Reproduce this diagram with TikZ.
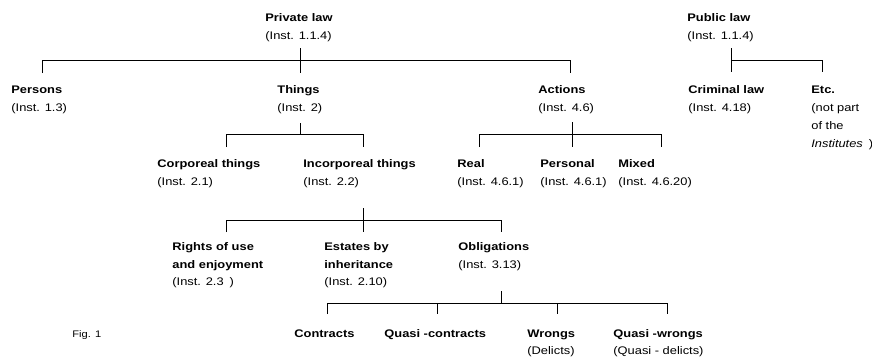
\documentclass[tikz,border=0pt]{standalone}
\usepackage{fontspec}
\setmainfont{Liberation Sans}[FakeStretch=1.17]
\newcommand\tline[1]{\hbox{#1}}
\newcommand\lbl[2][18pt]{\vtop{\baselineskip=#1\lineskip=0pt\lineskiplimit=-100pt #2}}
\begin{document}
\begin{tikzpicture}[x=1pt,y=-1pt,line width=0.8pt,
  txt/.style={anchor=base west,inner sep=0pt,font=\fontsize{11pt}{18pt}\selectfont},
  conn/.style={draw=black,line width=0.8pt}]
\useasboundingbox (0,0) rectangle (872,357);
% nodes
\node[txt] (priv) at (265,21.5) {\lbl{\tline{\bfseries Private law}\tline{(Inst. 1.1.4)}}};
\node[txt] (pub) at (687,21.5) {\lbl{\tline{\bfseries Public law}\tline{(Inst. 1.1.4)}}};
\node[txt] (persons) at (11,93.5) {\lbl{\tline{\bfseries Persons}\tline{(Inst. 1.3)}}};
\node[txt] (things) at (277,93.5) {\lbl{\tline{\bfseries Things}\tline{(Inst. 2)}}};
\node[txt] (actions) at (538,93.5) {\lbl{\tline{\bfseries Actions}\tline{(Inst. 4.6)}}};
\node[txt] (criminal) at (688,93.5) {\lbl{\tline{\bfseries Criminal law}\tline{(Inst. 4.18)}}};
\node[txt] (etc) at (811,93.5) {\lbl{\tline{\bfseries Etc.}\tline{(not part}\tline{of the}\tline{\itshape Institutes\upshape\hspace{6pt})}}};
\node[txt] (corp) at (157,167.5) {\lbl{\tline{\bfseries Corporeal things}\tline{(Inst. 2.1)}}};
\node[txt] (incorp) at (303,167.5) {\lbl{\tline{\bfseries Incorporeal things}\tline{(Inst. 2.2)}}};
\node[txt] (real) at (457,167.5) {\lbl{\tline{\bfseries Real}\tline{(Inst. 4.6.1)}}};
\node[txt] (personal) at (540,167.5) {\lbl{\tline{\bfseries Personal}\tline{(Inst. 4.6.1)}}};
\node[txt] (mixed) at (618,167.5) {\lbl{\tline{\bfseries Mixed}\tline{(Inst. 4.6.20)}}};
\node[txt] (rights) at (172,250.5) {\lbl[17.5pt]{\tline{\bfseries Rights of use}\tline{\bfseries and enjoyment}\tline{(Inst. 2.3\hspace{6pt})}}};
\node[txt] (estates) at (324,250.5) {\lbl[17.5pt]{\tline{\bfseries Estates by}\tline{\bfseries inheritance}\tline{(Inst. 2.10)}}};
\node[txt] (oblig) at (458,250.5) {\lbl[17.5pt]{\tline{\bfseries Obligations}\tline{(Inst. 3.13)}}};
\node[txt] (contracts) at (294,337.5) {\lbl{\tline{\bfseries Contracts}}};
\node[txt] (quasic) at (384,337.5) {\lbl{\tline{\bfseries Quasi -contracts}}};
\node[txt] (wrongs) at (527,337.5) {\lbl[17pt]{\tline{\bfseries Wrongs}\tline{(Delicts)}}};
\node[txt] (quasiw) at (613,337.5) {\lbl[17pt]{\tline{\bfseries Quasi -wrongs}\tline{(Quasi - delicts)}}};
\node[txt,font=\fontsize{9.5pt}{11pt}\selectfont] (fig) at (72,337.5) {Fig. 1};
% junction coordinates
\foreach \n/\x/\y in {pt/300/48,pMd/300/73,pL/42/60,pLd/42/73,pR/570/60,pRd/570/73,
  ut/731/48,ud/731/72,uj/731/60,uR/822/60,uRd/822/72,
  tt/300/123,tj/300/134,tL/226/134,tLd/226/147,tR/363/134,tRd/363/147,
  at/572/122,ad/572/147,aL/479/134,aLd/479/147,aR/661/134,aRd/661/147,
  it/363/208,id/363/232,iL/226/220,iLd/226/232,iR/501/220,iRd/501/232,
  ot/501/291,oj/501/303,oL/327/303,oLd/327/314,oR/667/303,oRd/667/314,
  otwo/437/303,otwod/437/314,othree/557/303,othreed/557/314}
  \coordinate (\n) at (\x,\y);
% connectors
\draw[conn] (pt) -- (pMd);
\draw[conn] (pLd) -- (pL) -- (pR) -- (pRd);
\draw[conn] (ut) -- (ud);
\draw[conn] (uj) -- (uR) -- (uRd);
\draw[conn] (tt) -- (tj);
\draw[conn] (tLd) -- (tL) -- (tR) -- (tRd);
\draw[conn] (at) -- (ad);
\draw[conn] (aLd) -- (aL) -- (aR) -- (aRd);
\draw[conn] (it) -- (id);
\draw[conn] (iLd) -- (iL) -- (iR) -- (iRd);
\draw[conn] (ot) -- (oj);
\draw[conn] (oLd) -- (oL) -- (oR) -- (oRd);
\draw[conn] (otwo) -- (otwod);
\draw[conn] (othree) -- (othreed);
\end{tikzpicture}
\end{document}
